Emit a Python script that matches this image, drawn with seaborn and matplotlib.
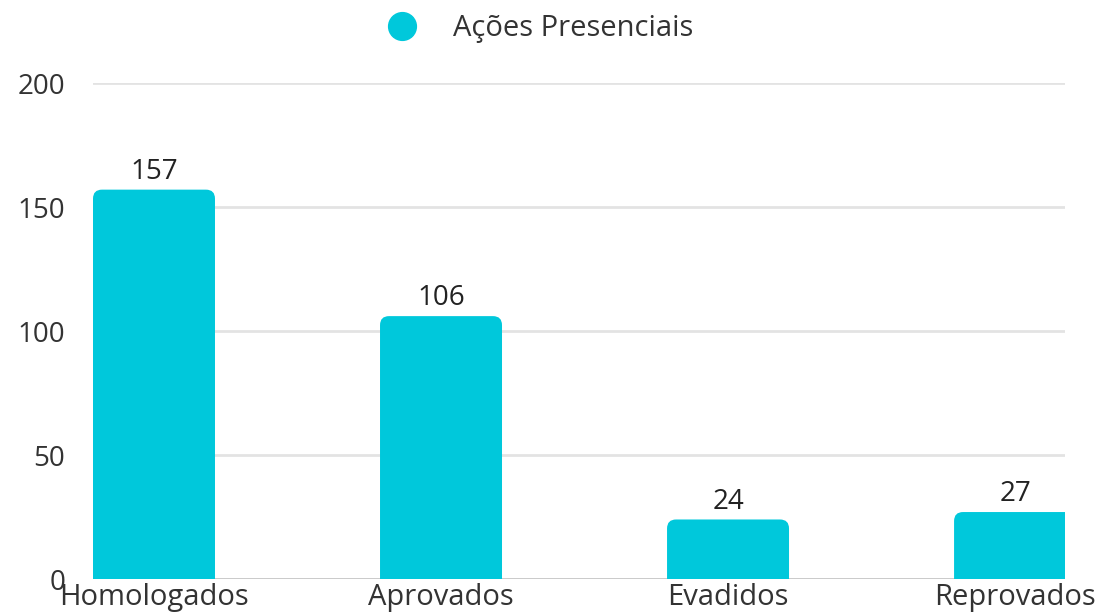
import matplotlib
matplotlib.use("Agg")
import matplotlib.pyplot as plt
import seaborn as sns
import pandas as pd
from matplotlib.patches import FancyBboxPatch
from matplotlib.lines import Line2D

# --- Data ---
categories = ["Homologados", "Aprovados", "Evadidos", "Reprovados"]
values = [157, 106, 24, 27]
series_name = "Ações Presenciais"
y_ticks = [0, 50, 100, 150, 200]

BAR_COLOR = "#00C8DB"
TEXT_COLOR = "#333333"

df = pd.DataFrame({"categoria": categories, "valor": values})

sns.set_theme(style="white")
plt.rcParams["font.family"] = ["Open Sans", "DejaVu Sans"]

fig = plt.figure(figsize=(11.08, 6.14), dpi=100)
ax = fig.add_axes([93 / 1108, (614 - 579) / 614, (1065 - 93) / 1108, (579 - 83) / 614])

sns.barplot(data=df, x="categoria", y="valor", color=BAR_COLOR, width=0.425,
            saturation=1, ax=ax, zorder=3)

ax.set_ylim(0, 200)
ax.set_xlim(-0.2125, 3.174)
ax.set_yticks(y_ticks)
ax.yaxis.grid(True, color="#e3e3e3", linewidth=2, zorder=0)
ax.set_axisbelow(True)
for s in ax.spines.values():
    s.set_visible(False)
ax.axhline(0, color="#c8c8c8", linewidth=2, zorder=2)

ax.set_xlabel("")
ax.set_ylabel("")
ax.tick_params(axis="y", length=0, pad=20, labelsize=20, labelcolor=TEXT_COLOR)
ax.tick_params(axis="x", length=0, pad=3, labelsize=21, labelcolor=TEXT_COLOR)

# rounded tops: replace bars with fancy boxes extended below zero
fig.canvas.draw()
px_per_x = ax.transData.transform((1, 0))[0] - ax.transData.transform((0, 0))[0]
px_per_y = ax.transData.transform((0, 1))[1] - ax.transData.transform((0, 0))[1]
r_px = 9
for p in list(ax.patches):
    x, w, h = p.get_x(), p.get_width(), p.get_height()
    p.remove()
    extra = 10
    box = FancyBboxPatch((x, -extra), w, h + extra,
                         boxstyle=f"round,pad=0,rounding_size={r_px / px_per_x}",
                         mutation_aspect=px_per_x / px_per_y,
                         facecolor=BAR_COLOR, edgecolor="none", zorder=3)
    ax.add_patch(box)

for i, v in enumerate(values):
    ax.text(i, v + 1.5, str(v), ha="center", va="bottom", fontsize=20, color="#222222")

handle = Line2D([], [], marker="o", linestyle="none", markersize=20,
                markerfacecolor=BAR_COLOR, markeredgecolor=BAR_COLOR)
fig.legend([handle], [series_name], loc="center", bbox_to_anchor=(0.481, 0.953),
           frameon=False, fontsize=21, handletextpad=0.75, labelcolor=TEXT_COLOR)

fig.savefig("out.png", dpi=100)
